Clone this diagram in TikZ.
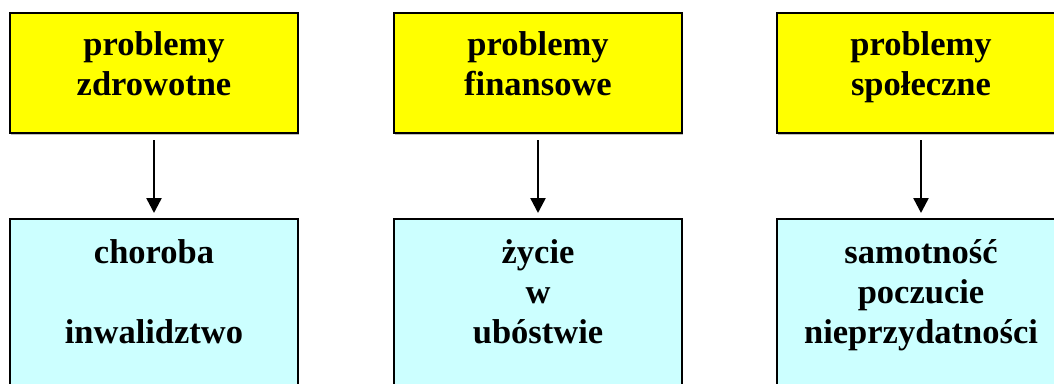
\documentclass[tikz,border=0pt]{standalone}
\usepackage{fontspec}
\setmainfont{Liberation Serif}
\usetikzlibrary{arrows.meta,shadows}
\definecolor{boxyellow}{HTML}{FFFF00}
\definecolor{boxcyan}{HTML}{CCFFFF}
\begin{document}
\begin{tikzpicture}[x=1pt,y=-1pt,
  box/.style={draw=black, line width=1.5pt, inner sep=0pt, outer sep=0pt,
    drop shadow={shadow xshift=1pt, shadow yshift=-1.5pt, fill=gray!50, opacity=1}},
  topbox/.style={box, fill=boxyellow, minimum width=288pt, minimum height=120pt},
  botbox/.style={box, fill=boxcyan, minimum width=288pt, minimum height=220pt},
  lbl/.style={anchor=base, align=center, inner sep=0pt, font=\fontsize{34.5}{40}\selectfont\bfseries},
  arr/.style={line width=2.5pt, -{Triangle[length=15pt,width=15pt]}}]
\useasboundingbox (0,0) rectangle (1054,383);
\clip (0,0) rectangle (1054,383);
% top boxes
\node[topbox] (t1) at (154,73) {};
\node[topbox] (t2) at (538,73) {};
\node[topbox] (t3) at (921,73) {};
% bottom boxes
\node[botbox] (b1) at (154,329) {};
\node[botbox] (b2) at (538,329) {};
\node[botbox] (b3) at (921,329) {};
% labels (base anchor = baseline of last line)
\node[lbl] (lt1) at (154,95) {problemy\\zdrowotne};
\node[lbl] (lt2) at (538,95) {problemy\\finansowe};
\node[lbl] (lt3) at (921,95) {problemy\\społeczne};
\node[lbl] (lb1) at (154,343) {choroba\\[40pt]inwalidztwo};
\node[lbl] (lb2) at (538,343) {życie\\w\\ubóstwie};
\node[lbl] (lb3) at (921,343) {samotność\\poczucie\\nieprzydatności};
% arrows
\draw[arr] ([yshift=-7pt]t1.south) -- ([yshift=6pt]b1.north);
\draw[arr] ([yshift=-7pt]t2.south) -- ([yshift=6pt]b2.north);
\draw[arr] ([yshift=-7pt]t3.south) -- ([yshift=6pt]b3.north);
\end{tikzpicture}
\end{document}
